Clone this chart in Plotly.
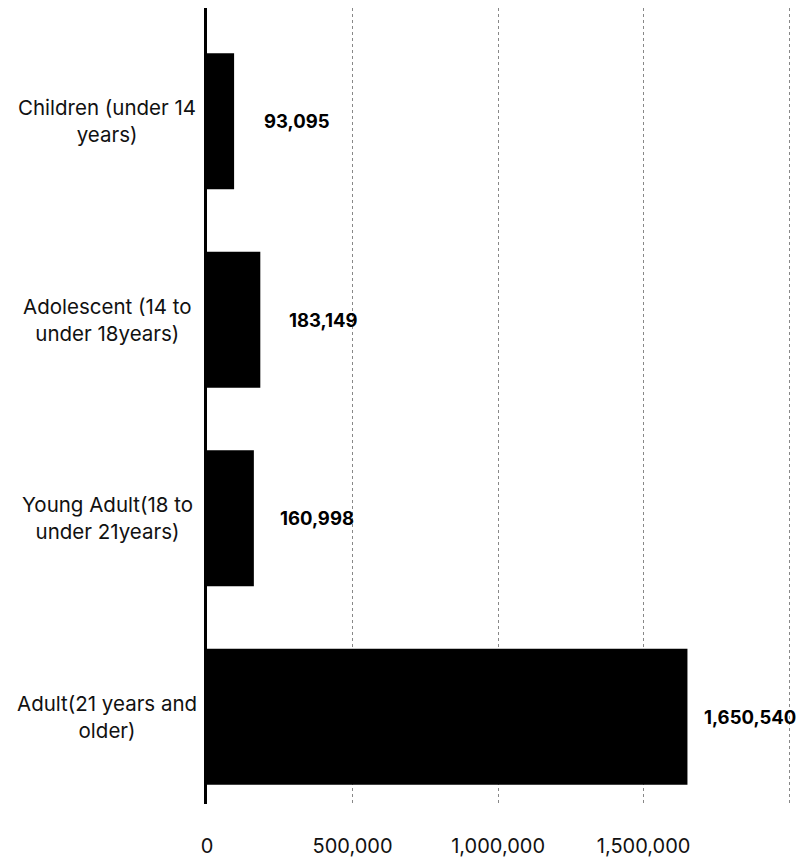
import plotly.graph_objects as go

categories = ["Children (under 14<br>years)",
              "Adolescent (14 to<br>under 18years)",
              "Young Adult(18 to<br>under 21years)",
              "Adult(21 years and<br>older)"]
values = [93095, 183149, 160998, 1650540]
value_labels = ["93,095", "183,149", "160,998", "1,650,540"]
tick_vals = [0, 500000, 1000000, 1500000, 2000000]
tick_text = ["0", "500,000", "1,000,000", "1,500,000", ""]

FONT = "Inter, Liberation Sans, Arial, sans-serif"

fig = go.Figure()
fig.add_trace(go.Bar(
    y=list(range(len(categories))), x=values, orientation="h",
    marker=dict(color="#000000", line=dict(width=0)),
    width=0.685, hoverinfo="skip",
))

annotations = []
for i, (v, t) in enumerate(zip(values, value_labels)):
    annotations.append(dict(x=v, y=i, xref="x", yref="y", text=f"<b>{t}</b>",
                            showarrow=False, xanchor="center", yanchor="middle",
                            xshift=63, font=dict(family=FONT, size=18.5, color="#000")))
for i, c in enumerate(categories):
    annotations.append(dict(x=0, y=i, xref="paper", yref="y", text=c,
                            showarrow=False, xanchor="center", yanchor="middle",
                            align="center", xshift=-100,
                            font=dict(family=FONT, size=20.5, color="#111")))

fig.update_layout(
    width=788, height=850,
    margin=dict(l=199, r=1, t=0, b=49),
    paper_bgcolor="white", plot_bgcolor="white",
    showlegend=False,
    annotations=annotations,
    xaxis=dict(range=[0, 2020000], tickvals=tick_vals, ticktext=tick_text,
               showgrid=True, gridcolor="#888", griddash="3px,3px", gridwidth=1,
               zeroline=False, showline=False, ticks="",
               ticklabelstandoff=28,
               tickfont=dict(family=FONT, size=20, color="#111")),
    yaxis=dict(range=[3.44, -0.57], showticklabels=False, showgrid=False,
               zeroline=False, showline=True, linecolor="#000", linewidth=3,
               ticks=""),
)

fig.write_html("out.html")
